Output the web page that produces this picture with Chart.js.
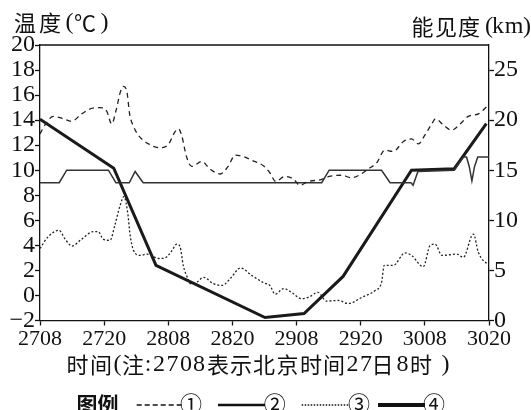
<!DOCTYPE html>
<html>
<head>
<meta charset="utf-8">
<script src="https://cdn.jsdelivr.net/npm/chart.js@4"></script>
<style>
    html, body { margin: 0; padding: 0; background: #fff; }
    canvas { display: block; }
</style>
</head>
<body>
<canvas id="chart" width="531" height="410"></canvas>
<script>
// hours counted from 27th 08:00 (label 2708)
let xTickLabels = ['2708', '2720', '2808', '2820', '2908', '2920', '3008', '3020']

// ① dashed line, temperature (left axis)
let s1Hours = [0, 0.9, 2.5, 4.4, 5.9, 7.8, 9.4, 11.2, 12.5, 13.4, 14.3, 15.0, 15.6, 16.2, 16.8, 17.5, 18.4,
    20.3, 22.5, 24.0, 25.3, 25.9, 26.5, 27.4, 28.4, 30.3, 31.8, 33.7, 35.2, 36.5, 38.0, 39.6, 41.8, 43.0,
    44.1, 45.8, 47.4, 48.6, 50.2, 52.6, 54.1, 56.4, 58.3, 59.9, 61.4, 63.0, 64.5, 66.1, 68.0, 69.5, 70.8,
    72.0, 73.3, 74.0, 75.5, 77.0, 78.6, 80.1, 82.0, 83.9]
let s1Values = [12.9, 13.6, 14.3, 14.1, 13.9, 14.5, 14.9, 15.0, 14.7, 13.7, 14.9, 16.2, 16.7, 16.4, 14.4, 13.5, 12.8,
    12.1, 11.8, 12.05, 13.1, 13.3, 12.8, 11.1, 10.3, 10.7, 10.1, 9.7, 10.3, 11.2, 11.1, 10.8, 10.35, 9.8,
    9.1, 9.5, 9.3, 8.8, 9.1, 9.25, 9.5, 9.6, 9.4, 9.65, 10.1, 10.6, 11.6, 11.5, 12.3, 12.5, 12.1,
    12.8, 13.7, 14.1, 13.6, 13.2, 13.7, 14.3, 14.5, 15.2]

// ② thin solid line (left axis)
let s2Hours = [0, 3.6, 5.0, 12.8, 14.2, 16.7, 17.8, 19.3, 52.7, 54.1, 63.9, 65.5, 69.4, 69.8, 70.7, 77.5, 79.2,
    79.8, 80.3, 80.8, 81.3, 81.9, 84]
let s2Values = [9, 9, 10, 10, 9, 9, 9.9, 9, 9, 10, 10, 9, 9, 8.8, 9.9, 10, 11.06,
    11.06, 10.3, 9.15, 10.3, 11.06, 11.06]

// ③ dotted line (left axis)
let s3Hours = [0, 1.55, 3.55, 4.7, 6.0, 7.8, 10.0, 10.9, 11.8, 13.1, 14.0, 15.0, 15.7, 16.5, 16.8, 17.5, 18.7,
    20.0, 20.6, 22.1, 23.4, 24.0, 24.7, 25.6, 26.2, 26.8, 27.7, 28.1, 29.3, 30.6, 32.4, 34.1, 35.7, 37.5,
    39.6, 41.9, 43.0, 44.0, 45.6, 47.2, 48.9, 50.2, 52.0, 53.6, 55.8, 57.7, 60.2, 62.7, 63.9, 64.4, 66.1,
    68.3, 69.5, 71.7, 73.0, 73.9, 75.2, 76.7, 78.0, 79.2, 80.8, 81.1, 82.0, 83.6, 84]
let s3Values = [3.75, 4.7, 5.2, 4.5, 3.95, 4.5, 5.1, 5.1, 4.5, 4.4, 5.6, 7.2, 7.9, 6.3, 5.0, 3.6, 3.2,
    3.3, 3.25, 2.95, 3.0, 3.2, 3.6, 4.1, 3.9, 2.4, 1.3, 0.95, 1.05, 1.45, 0.95, 0.8, 1.4, 2.2,
    1.6, 1.0, 0.8, 0.1, 0.55, 0.2, -0.25, -0.15, 0.25, -0.45, -0.4, -0.65, -0.15, 0.4, 1.05, 2.4, 2.4,
    3.4, 3.2, 2.3, 4.0, 4.1, 3.2, 3.25, 3.3, 3.05, 4.8, 4.9, 3.45, 2.55, 2.5]

// ④ thick solid line, visibility km (right axis)
let s4Hours = [0, 13.8, 21.7, 42.1, 49.4, 56.7, 69.5, 77.5, 83.5]
let s4Values = [20.1, 15.2, 5.5, 0.3, 0.7, 4.4, 15.0, 15.15, 19.65]

let serif = "'Liberation Serif', 'Times New Roman', 'DejaVu Serif', 'Noto Sans CJK SC', serif"
let cjk = "'Noto Sans CJK SC', sans-serif"

function points(xs, ys) {
    return xs.map((x, i) => ({x, y: ys[i]}))
}

function isCjk(ch) {
    return /[\u2100-\u2bff\u3000-\u9fff\uff00-\uffef]/.test(ch)
}

function drawChars(ctx, chars, y) {
    ctx.textAlign = 'center'
    ctx.textBaseline = 'middle'
    chars.forEach(([ch, cx]) => {
        ctx.font = isCjk(ch) ? `22px ${cjk}` : `24px ${serif}`
        ctx.fillText(ch, cx, y)
    })
}

let extras = {
    id: 'extras',
    afterDraw(chart) {
        let {ctx, chartArea} = chart
        ctx.save()
        ctx.strokeStyle = '#111'
        ctx.lineWidth = 1.3
        ctx.beginPath()
        ctx.moveTo(chartArea.left, chartArea.top)
        ctx.lineTo(chartArea.right, chartArea.top)
        ctx.stroke()

        ctx.fillStyle = '#111'
        drawChars(ctx, [['温', 25], ['度', 50], ['(', 69.5], ['℃', 85], [')', 104.5]], 23)
        drawChars(ctx, [['能', 422.5], ['见', 446], ['度', 469], ['(', 489], ['k', 498], ['m', 514], [')', 527]], 27)
        drawChars(ctx, [['时', 77.5], ['间', 101], ['(', 117.5], ['注', 133], [':', 148], ['2', 159], ['7', 172.5],
            ['0', 186], ['8', 199], ['表', 218], ['示', 241], ['北', 264], ['京', 287.5], ['时', 311], ['间', 334],
            ['2', 352.5], ['7', 366], ['日', 382.5], ['8', 402.5], ['时', 421], [')', 445.5]], 365)

        // legend
        let ly = 404
        ctx.font = `bold 21px ${cjk}`
        ctx.fillText('图例', 97.5, ly)
        let items = [
            {x0: 136.7, x1: 183.3, dash: [5, 3], width: 1.3, label: '①', cx: 191},
            {x0: 218, x1: 265, dash: [], width: 2.5, label: '②', cx: 274.7},
            {x0: 301.7, x1: 350, dash: [1.5, 1.5], width: 1.3, label: '③', cx: 359},
            {x0: 378, x1: 425, dash: [], width: 4, label: '④', cx: 434},
        ]
        items.forEach((it) => {
            ctx.beginPath()
            ctx.setLineDash(it.dash)
            ctx.lineWidth = it.width
            ctx.moveTo(it.x0, ly + 1)
            ctx.lineTo(it.x1, ly + 1)
            ctx.stroke()
            ctx.setLineDash([])
            ctx.font = `22px ${cjk}`
            ctx.fillText(it.label, it.cx, ly)
        })
        ctx.restore()
    },
}

let axisGrid = {
    drawOnChartArea: false,
    color: '#111',
    tickLength: 5,
    tickWidth: 1.3,
}
let axisBorder = {color: '#111', width: 1.3}

new Chart(document.getElementById('chart'), {
    type: 'line',
    data: {
        datasets: [
            {
                label: '①',
                data: points(s1Hours, s1Values),
                yAxisID: 'y',
                borderColor: '#222',
                borderWidth: 1.3,
                borderDash: [5, 4],
                cubicInterpolationMode: 'monotone',
            },
            {
                label: '②',
                data: points(s2Hours, s2Values),
                yAxisID: 'y',
                borderColor: '#333',
                borderWidth: 1.5,
                tension: 0,
            },
            {
                label: '③',
                data: points(s3Hours, s3Values),
                yAxisID: 'y',
                borderColor: '#222',
                borderWidth: 1.3,
                borderDash: [2, 2],
                cubicInterpolationMode: 'monotone',
            },
            {
                label: '④',
                data: points(s4Hours, s4Values),
                yAxisID: 'y1',
                borderColor: '#1a1a1a',
                borderWidth: 3,
                tension: 0,
            },
        ],
    },
    options: {
        responsive: false,
        animation: false,
        devicePixelRatio: 1,
        layout: {padding: {top: 45}},
        elements: {point: {radius: 0}},
        plugins: {
            legend: {display: false},
            tooltip: {enabled: false},
        },
        scales: {
            x: {
                type: 'linear',
                min: 0,
                max: 84,
                grid: axisGrid,
                border: axisBorder,
                afterFit(scale) {
                    scale.height = 89.5
                },
                ticks: {
                    stepSize: 12,
                    padding: 1,
                    maxRotation: 0,
                    autoSkip: false,
                    color: '#111',
                    font: {family: serif, size: 22},
                    callback: (v) => xTickLabels[v / 12],
                },
            },
            y: {
                position: 'left',
                min: -2,
                max: 20,
                grid: axisGrid,
                border: axisBorder,
                afterFit(scale) {
                    scale.width = 40
                },
                ticks: {
                    stepSize: 2,
                    padding: 0,
                    autoSkip: false,
                    color: '#111',
                    font: {family: serif, size: 24, lineHeight: 1},
                    callback: (v) => (v < 0 ? '−' + Math.abs(v) : String(v)),
                },
            },
            y1: {
                position: 'right',
                min: 0,
                max: 27.5,
                grid: axisGrid,
                border: axisBorder,
                afterFit(scale) {
                    scale.width = 42
                },
                afterBuildTicks(scale) {
                    scale.ticks = [0, 5, 10, 15, 20, 25].map((value) => ({value}))
                },
                ticks: {
                    padding: 0,
                    autoSkip: false,
                    color: '#111',
                    font: {family: serif, size: 24},
                },
            },
        },
    },
    plugins: [extras],
})
</script>
</body>
</html>
